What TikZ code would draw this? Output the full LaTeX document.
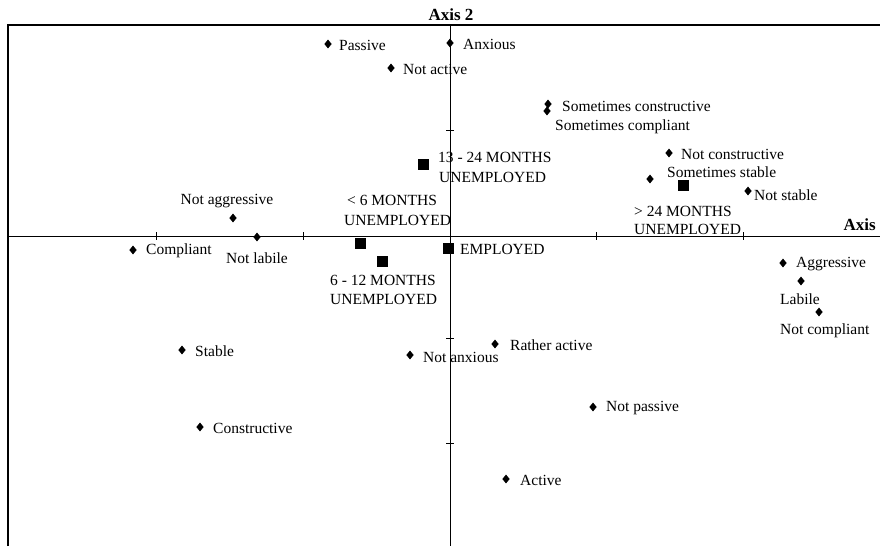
\documentclass[tikz,border=0pt]{standalone}
\usepackage{fontspec}
\setmainfont{Liberation Serif}
\usetikzlibrary{shapes.geometric}
\begin{document}
\begin{tikzpicture}[x=1pt,y=-1pt,
  frame/.style={line width=1.2pt},
  axisline/.style={line width=0.7pt},
  tick/.style={line width=0.6pt},
  dia/.style={diamond,fill=black,inner sep=0pt,minimum width=7.5pt,minimum height=9pt},
  sq/.style={rectangle,fill=black,inner sep=0pt,minimum size=11pt},
  lab/.style={anchor=west,inner sep=0pt,font=\fontsize{15.5}{17}\selectfont},
  axlab/.style={inner sep=0pt,font=\fontsize{17}{19}\selectfont\bfseries}]
\useasboundingbox (0,0) rectangle (880,546);
% frame and axes
\draw[frame] (8,546) -- (8,25) -- (880,25);
\draw[axisline] (8,236) -- (880,236);
\draw[axisline] (450,25) -- (450,546);
\foreach \x in {156,303,596,743} \draw[tick] (\x,232) -- (\x,240);
\foreach \y in {130,338,443} \draw[tick] (446,\y) -- (454,\y);
\node[axlab,anchor=south] (ax2) at (451,21) {Axis 2};
\node[axlab,anchor=east] (ax1) at (876,225) {Axis};
% characteristic points
\node[dia] (passive) at (328,44) {};
\node[lab] (tpassive) at (339,45) {Passive};
\node[dia] (anxious) at (450,43) {};
\node[lab] (tanxious) at (463,44) {Anxious};
\node[dia] (notactive) at (391,68) {};
\node[lab] (tnotactive) at (403,69) {Not active};
\node[dia] (sconstr) at (548,104) {};
\node[lab] (tsconstr) at (562,106) {Sometimes constructive};
\node[dia] (scompl) at (547,111) {};
\node[lab] (tscompl) at (555,127) {Sometimes compliant};
\node[dia] (notconstr) at (669,153) {};
\node[lab] (tnotconstr) at (681,154) {Not constructive};
\node[dia] (sstable) at (650,179) {};
\node[lab] (tsstable) at (667,172) {Sometimes stable};
\node[dia] (notstable) at (748,191) {};
\node[lab] (tnotstable) at (754,195) {Not stable};
\node[dia] (notaggr) at (233,218) {};
\node[lab,anchor=center] (tnotaggr) at (227,201) {Not aggressive};
\node[dia] (notlabile) at (257,237) {};
\node[lab] (tnotlabile) at (226,258) {Not labile};
\node[dia] (compliant) at (133,250) {};
\node[lab] (tcompliant) at (146,251) {Compliant};
\node[dia] (aggr) at (783,263) {};
\node[lab] (taggr) at (796,264) {Aggressive};
\node[dia] (labile) at (801,281) {};
\node[lab] (tlabile) at (780,299) {Labile};
\node[dia] (notcompl) at (819,312) {};
\node[lab] (tnotcompl) at (780,331) {Not compliant};
\node[dia] (ratheract) at (495,344) {};
\node[lab] (tratheract) at (510,345) {Rather active};
\node[dia] (notanx) at (410,355) {};
\node[lab] (tnotanx) at (423,357) {Not anxious};
\node[dia] (stable) at (182,350) {};
\node[lab] (tstable) at (195,351) {Stable};
\node[dia] (notpassive) at (593,407) {};
\node[lab] (tnotpassive) at (606,408) {Not passive};
\node[dia] (constr) at (200,427) {};
\node[lab] (tconstr) at (213,428) {Constructive};
\node[dia] (active) at (506,479) {};
\node[lab] (tactive) at (520,480) {Active};
% employment groups
\node[sq] (m1324) at (423,164) {};
\node[lab] (tm1324a) at (438,157) {13 - 24 MONTHS};
\node[lab] (tm1324b) at (439,177) {UNEMPLOYED};
\node[lab] (tm6a) at (347,200) {< 6 MONTHS};
\node[lab] (tm6b) at (344,220) {UNEMPLOYED};
\node[sq] (m6) at (360,243) {};
\node[sq] (m612) at (382,261) {};
\node[lab] (tm612a) at (330,280) {6 - 12 MONTHS};
\node[lab] (tm612b) at (330,299) {UNEMPLOYED};
\node[sq] (empl) at (448,248) {};
\node[lab] (templ) at (460,249) {EMPLOYED};
\node[sq] (m24) at (683,185) {};
\node[lab] (tm24a) at (634,211) {> 24 MONTHS};
\node[lab] (tm24b) at (634,229) {UNEMPLOYED};
\end{tikzpicture}
\end{document}
